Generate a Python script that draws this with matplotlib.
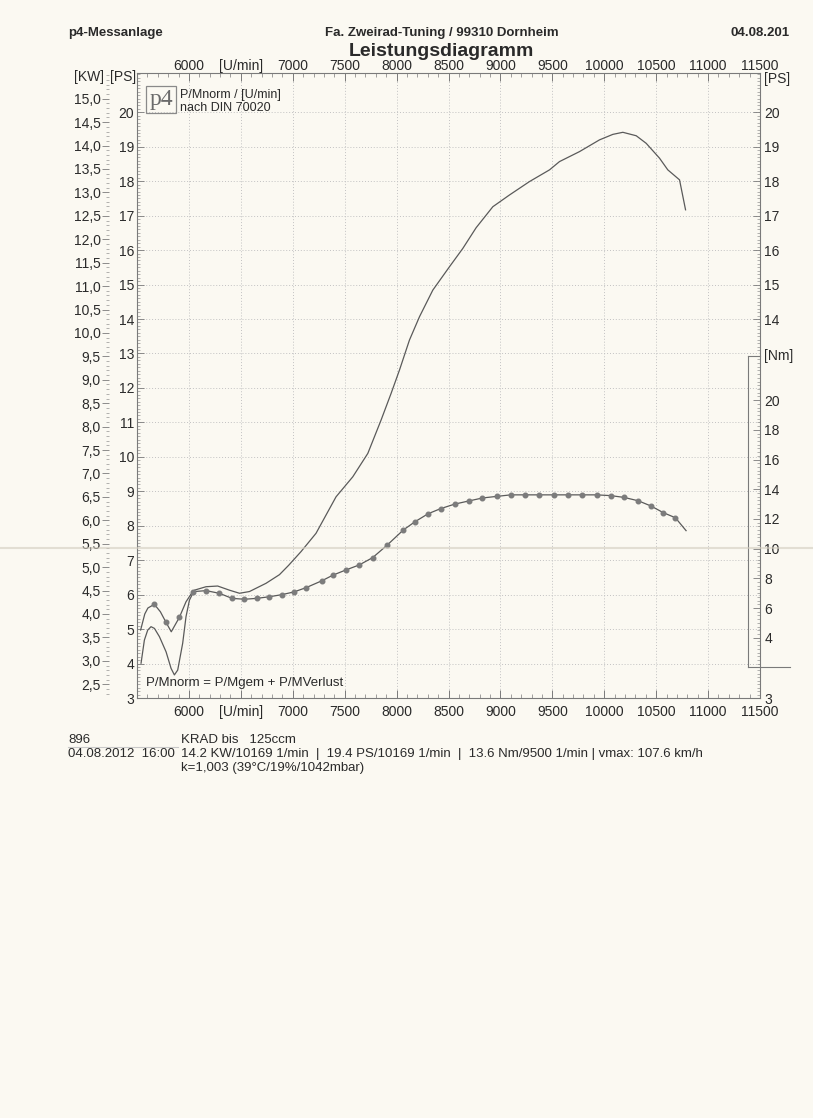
import matplotlib
matplotlib.use('Agg')
import matplotlib.pyplot as plt
import matplotlib.transforms as mtransforms
from matplotlib.lines import Line2D
from matplotlib.patches import Rectangle

plt.rcParams['font.family'] = ['Liberation Sans', 'DejaVu Sans']

# ---------------- data ----------------
power_rpm = [5539, 5571, 5603, 5635, 5668, 5716, 5780, 5828, 5860, 5892, 5940, 5972,
             6005, 6053, 6165, 6277, 6390, 6487, 6583, 6743, 6872, 6960, 7080, 7224,
             7417, 7578, 7723, 7851, 7947, 8028, 8124, 8221, 8349, 8510, 8638, 8766,
             8927, 9087, 9280, 9473, 9569, 9762, 9954, 10083, 10179, 10308, 10404,
             10532, 10612, 10725, 10783]
power_ps = [4.01, 4.68, 4.97, 5.07, 5.02, 4.78, 4.34, 3.86, 3.67, 3.81, 4.59, 5.36,
            5.84, 6.13, 6.23, 6.25, 6.13, 6.04, 6.09, 6.33, 6.58, 6.85, 7.25, 7.78,
            8.84, 9.42, 10.10, 11.07, 11.84, 12.52, 13.39, 14.07, 14.84, 15.52, 16.05, 16.65,
            17.26, 17.60, 17.99, 18.33, 18.57, 18.86, 19.20, 19.36, 19.42, 19.32, 19.10,
            18.67, 18.33, 18.04, 17.17]

torque_rpm = [5535, 5575, 5605, 5667, 5725, 5779, 5830, 5908, 5972, 6036, 6165, 6294,
              6415, 6535, 6654, 6776, 6895, 7010, 7128, 7282, 7389, 7511, 7640, 7769,
              7910, 8064, 8177, 8304, 8423, 8561, 8696, 8827, 8968, 9100, 9235, 9373,
              9514, 9652, 9790, 9926, 10061, 10190, 10328, 10450, 10569, 10685, 10788]
torque_nm = [4.52, 5.60, 6.00, 6.25, 5.75, 5.04, 4.40, 5.37, 6.42, 7.10, 7.17, 6.99,
             6.65, 6.59, 6.65, 6.76, 6.90, 7.08, 7.37, 7.84, 8.22, 8.56, 8.90, 9.39,
             10.24, 11.25, 11.81, 12.35, 12.69, 13.00, 13.21, 13.41, 13.52, 13.62, 13.62, 13.62,
             13.62, 13.62, 13.62, 13.62, 13.57, 13.45, 13.22, 12.87, 12.42, 12.08, 11.21]
torque_dot = [0, 0, 0, 1, 0, 1, 0, 1, 0, 1, 1, 1,
              1, 1, 1, 1, 1, 1, 1, 1, 1, 1, 1, 1,
              1, 1, 1, 1, 1, 1, 1, 1, 1, 1, 1, 1,
              1, 1, 1, 1, 1, 1, 1, 1, 1, 1, 0]

rpm_ticks = [5500, 6000, 6500, 7000, 7500, 8000, 8500, 9000, 9500, 10000, 10500, 11000, 11500]
rpm_labels = ['', '6000', '[U/min]', '7000', '7500', '8000', '8500', '9000', '9500',
              '10000', '10500', '11000', '11500']
ps_ticks = [3, 4, 5, 6, 7, 8, 9, 10, 11, 12, 13, 14, 15, 16, 17, 18, 19, 20]
ps_right_ticks = [3, 14, 15, 16, 17, 18, 19, 20]
kw_ticks = [2.5, 3.0, 3.5, 4.0, 4.5, 5.0, 5.5, 6.0, 6.5, 7.0, 7.5, 8.0, 8.5, 9.0, 9.5,
            10.0, 10.5, 11.0, 11.5, 12.0, 12.5, 13.0, 13.5, 14.0, 14.5, 15.0]
nm_ticks = [4, 6, 8, 10, 12, 14, 16, 18, 20]
PS_TO_KW = 0.7355

# ---------------- layout ----------------
W, H = 813, 1118
PAPER = '#fbf9f2'
INK = '#2a2a2a'
AXC = '#7a7a7a'
AX_L, AX_R, AX_T, AX_B = 137, 760, 72.7, 698
AX_W = AX_R - AX_L


def fx(x):
    return x / W


def fy(y):
    return 1 - y / H


fig = plt.figure(figsize=(W / 100, H / 100), dpi=100, facecolor=PAPER)
ax = fig.add_axes([fx(AX_L), fy(AX_B), AX_W / W, (AX_B - AX_T) / H])
ax.set_facecolor('none')
ax.set_xlim(5500, 11500)
ax.set_ylim(3, 21.15)

for s in ax.spines.values():
    s.set_color(AXC)
    s.set_linewidth(0.8)

# grid
for r in rpm_ticks[1:-1]:
    ax.axvline(r, color='#c2c2c2', lw=0.7, ls=(0, (1, 2)), zorder=0)
for p in ps_ticks[1:]:
    ax.axhline(p, color='#c2c2c2', lw=0.7, ls=(0, (1, 2)), zorder=0)

# x axis (bottom)
ax.set_xticks(rpm_ticks)
ax.set_xticklabels(rpm_labels)
ax.set_xticks([5500 + 100 * i for i in range(61)], minor=True)
ax.tick_params(axis='x', which='major', direction='in', length=6, width=0.7, color=AXC,
               labelsize=10, labelcolor=INK, pad=5, top=True)
ax.tick_params(axis='x', which='minor', direction='in', length=3, width=0.5, color=AXC, top=True)

# top labels
axt = ax.secondary_xaxis('top')
axt.set_xticks(rpm_ticks)
axt.set_xticklabels(rpm_labels)
axt.tick_params(axis='x', which='major', direction='in', length=0, labelsize=10,
                labelcolor=INK, pad=-0.5)
axt.spines['top'].set_visible(False)

# left PS axis
ax.set_yticks(ps_ticks)
ax.set_yticklabels([str(p) for p in ps_ticks])
ax.set_yticks([3 + 0.1 * i for i in range(182)], minor=True)
ax.tick_params(axis='y', which='major', direction='in', length=5, width=0.6, color=AXC,
               labelsize=10, labelcolor=INK, pad=2, right=False)
ax.tick_params(axis='y', which='minor', direction='in', length=2.5, width=0.4, color=AXC,
               right=False)

# KW axis (further left)
axk = ax.secondary_yaxis(-28 / AX_W, functions=(lambda p: p * PS_TO_KW,
                                               lambda k: k / PS_TO_KW))
axk.set_yticks(kw_ticks)
axk.set_yticklabels([f'{k:.1f}'.replace('.', ',') for k in kw_ticks])
axk.set_yticks([2.3 + 0.1 * i for i in range(133)], minor=True)
axk.spines['left'].set_visible(False)
axk.tick_params(axis='y', which='major', direction='out', length=5, width=0.6, color=AXC,
                labelsize=10, labelcolor=INK, pad=1)
axk.tick_params(axis='y', which='minor', direction='out', length=2.5, width=0.4, color=AXC)

# right PS axis
axr = ax.twinx()
axr.set_ylim(3, 21.15)
for s in axr.spines.values():
    s.set_visible(False)
axr.set_yticks(ps_right_ticks)
axr.set_yticklabels([str(p) for p in ps_right_ticks])
axr.set_yticks([13.1 + 0.1 * i for i in range(81)] + [3.0 + 0.1 * i for i in range(9)],
               minor=True)
axr.tick_params(axis='y', which='major', direction='in', length=5, width=0.6, color=AXC,
                labelsize=10, labelcolor=INK, pad=3)
axr.tick_params(axis='y', which='minor', direction='in', length=2.5, width=0.4, color=AXC)

# Nm axis (inset scale on right)
axn = ax.twinx()
axn.set_ylim(-0.06, 42.05)
for s in axn.spines.values():
    s.set_visible(False)
axn.set_yticks(nm_ticks)
axn.set_yticklabels([str(n) for n in nm_ticks])
axn.set_yticks([2 + 0.25 * i for i in range(85)], minor=True)
axn.tick_params(axis='y', which='major', direction='in', length=5, width=0.6, color=AXC,
                labelsize=10, labelcolor=INK, pad=3)
axn.tick_params(axis='y', which='minor', direction='in', length=2.5, width=0.4, color=AXC)
tr = mtransforms.blended_transform_factory(axn.transAxes, axn.transData)
bw = 12 / AX_W
axn.plot([1 - bw, 1 - bw], [2, 23], transform=tr, color=AXC, lw=0.8, clip_on=False)
axn.plot([1 - bw, 1], [23, 23], transform=tr, color=AXC, lw=0.8, clip_on=False)
axn.plot([1 - bw, 1 + 30 / AX_W], [2, 2], transform=tr, color=AXC, lw=0.8, clip_on=False)

# curves
ax.plot(power_rpm, power_ps, color='#5a5a5a', lw=0.9, zorder=3)
dot_idx = [i for i, d in enumerate(torque_dot) if d]
axn.plot(torque_rpm, torque_nm, color='#5a5a5a', lw=0.9, marker='o', ms=3.3,
         markevery=dot_idx, mfc='#7c7c7c', mec='#7c7c7c', zorder=3)

# ---------------- texts ----------------
def t(x, y, s, **kw):
    kw.setdefault('color', INK)
    kw.setdefault('va', 'center')
    fig.text(fx(x), fy(y), s, **kw)


t(68, 33, 'p4-Messanlage', fontsize=9.5, fontweight='bold')
t(442, 33, 'Fa. Zweirad-Tuning / 99310 Dornheim', fontsize=9.5, fontweight='bold', ha='center')
t(790, 33, '04.08.201', fontsize=9.5, fontweight='bold', ha='right')
t(441, 51, 'Leistungsdiagramm', fontsize=14, fontweight='bold', ha='center')

t(74, 77, '[KW]', fontsize=10)
t(136, 77, '[PS]', fontsize=10, ha='right')
t(764, 79, '[PS]', fontsize=10)
t(764, 356, '[Nm]', fontsize=10)

# logo
fig.patches.append(Rectangle((fx(146), fy(113)), 30 / W, 27 / H, transform=fig.transFigure,
                             fill=False, ec='#8a8a8a', lw=0.9))
t(161, 99.5, 'p4', fontsize=17, family=['Liberation Serif', 'DejaVu Serif'], color='#6a6a6a',
  ha='center')
t(180, 95, 'P/Mnorm / [U/min]', fontsize=9)
t(180, 108, 'nach DIN 70020', fontsize=9)
t(146, 683, 'P/Mnorm = P/Mgem + P/MVerlust', fontsize=9.5)

# footer
t(68, 740, '896', fontsize=9.5)
t(181, 740, 'KRAD bis   125ccm', fontsize=9.5)
fig.add_artist(Line2D([fx(68), fx(178)], [fy(747), fy(747)], color='#c8c8c8', lw=0.8))
t(68, 754, '04.08.2012  16:00', fontsize=9.5)
t(181, 754, '14.2 KW/10169 1/min  |  19.4 PS/10169 1/min  |  13.6 Nm/9500 1/min | vmax: 107.6 km/h',
  fontsize=9.5)
t(181, 768, 'k=1,003 (39°C/19%/1042mbar)', fontsize=9.5)

# paper fold
fig.add_artist(Line2D([0, 1], [fy(548), fy(548)], color='#d2ccbf', lw=1.5, alpha=0.6))

fig.savefig('out.png', dpi=100, facecolor=PAPER)
